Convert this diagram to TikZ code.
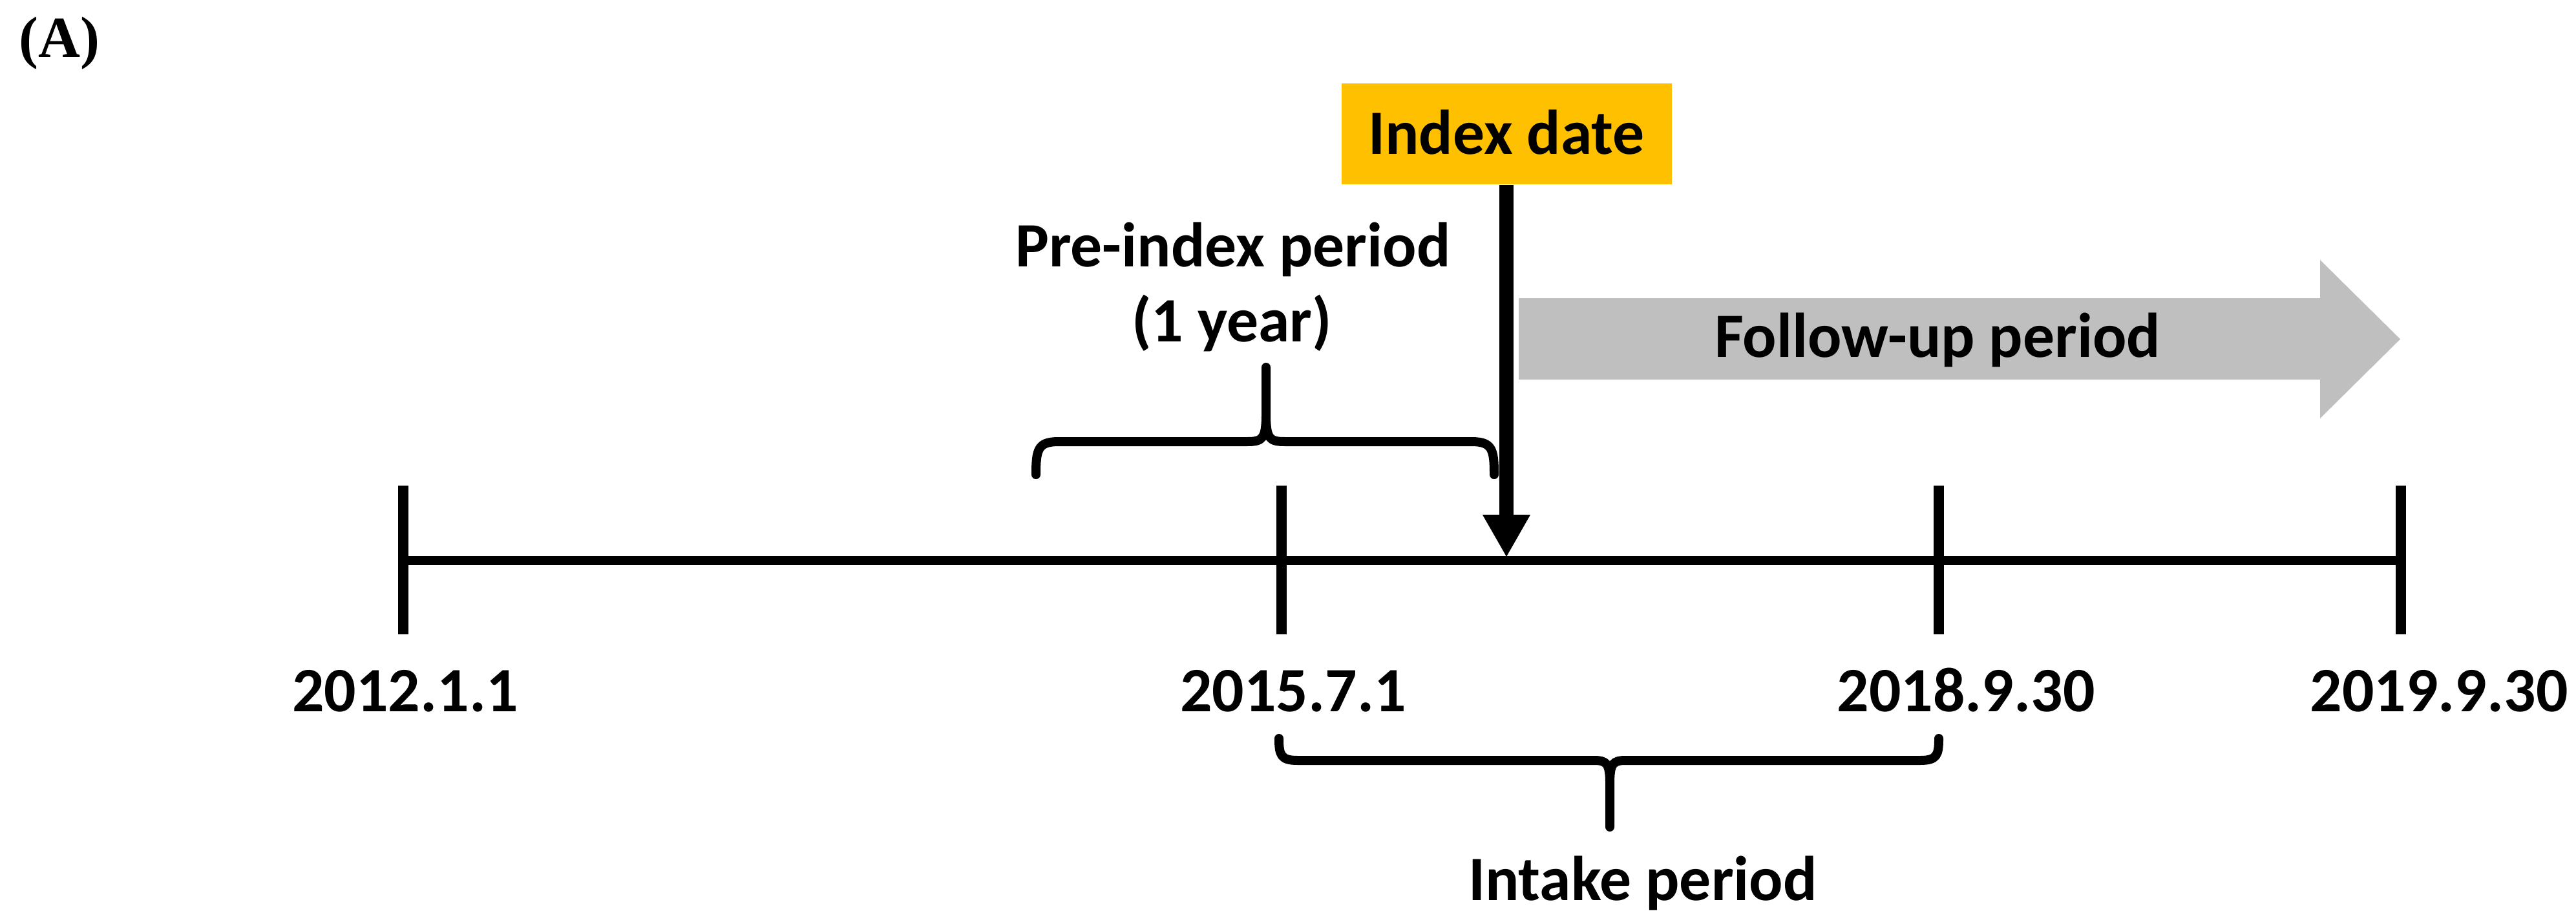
\documentclass[tikz,border=0pt]{standalone}
\usepackage{fontspec}
\setmainfont{Carlito}
\newfontfamily\serifA{Liberation Serif}
\usetikzlibrary{arrows.meta}
\definecolor{idxgold}{RGB}{255,192,0}
\definecolor{fugray}{RGB}{191,191,191}
\begin{document}
\begin{tikzpicture}[x=1cm,y=1cm,
  lbl/.style={font=\fontsize{27.8}{33}\selectfont\bfseries, inner sep=0pt, anchor=base},
  axisline/.style={line width=0.14cm},
  tickline/.style={line width=0.16cm},
  bracepath/.style={line width=0.14cm, line cap=round, line join=round},
  idxarrow/.style={line width=0.22cm, -{Triangle[width=0.69cm,length=0.66cm]}},
]
\useasboundingbox (0,0) rectangle (39.86,-14.29);
\fill[white] (0,0) rectangle (39.86,-14.29);

% panel label
\node[font=\serifA\bfseries\fontsize{25.6}{30}\selectfont, inner sep=0pt, anchor=base west] (panel) at (0.29,-0.88) {(A)};

% timeline
\coordinate (t0) at (6.24,-8.67);
\coordinate (t1) at (19.83,-8.67);
\coordinate (t2) at (30.00,-8.67);
\coordinate (t3) at (37.15,-8.67);
\draw[axisline] (t0) -- (t3);
\foreach \c in {t0,t1,t2,t3}{
  \draw[tickline] ([yshift=1.16cm]\c) -- ([yshift=-1.14cm]\c);
}

% date labels
\node[lbl] (d0) at (6.27,-11.00) {2012.1.1};
\node[lbl] (d1) at (20.01,-11.00) {2015.7.1};
\node[lbl] (d2) at (30.42,-11.00) {2018.9.30};
\node[lbl] (d3) at (37.74,-11.00) {2019.9.30};

% follow-up arrow
\fill[fugray] (23.50,-4.61) -- (35.90,-4.61) -- (35.90,-4.02) -- (37.14,-5.245)
  -- (35.90,-6.47) -- (35.90,-5.87) -- (23.50,-5.87) -- cycle;
\node[lbl] (fu) at (29.98,-5.52) {Follow-up period};

% index date
\node[fill=idxgold, minimum width=5.11cm, minimum height=1.56cm, inner sep=0pt,
      text height=0.62cm, text depth=0cm,
      font=\fontsize{27.8}{33}\selectfont\bfseries] (idx) at (23.31,-2.07) {Index date};
\coordinate (idxpt) at (23.31,-8.62);
\draw[idxarrow] (idx.south) -- (idxpt);

% pre-index period
\node[lbl] (pre1) at (19.08,-4.12) {Pre-index period};
\node[lbl] (pre2) at (19.06,-5.28) {(1 year)};
\draw[bracepath] (16.03,-7.34) .. controls (16.03,-6.95) and (16.06,-6.83) .. (16.38,-6.83)
  -- (19.30,-6.83) .. controls (19.54,-6.83) and (19.59,-6.78) .. (19.59,-6.40) -- (19.59,-5.68)
  (23.12,-7.34) .. controls (23.12,-6.95) and (23.09,-6.83) .. (22.77,-6.83)
  -- (19.88,-6.83) .. controls (19.64,-6.83) and (19.59,-6.78) .. (19.59,-6.40);

% intake period
\draw[bracepath] (19.79,-11.42) .. controls (19.79,-11.68) and (19.82,-11.76) .. (20.08,-11.76)
  -- (24.66,-11.76) .. controls (24.86,-11.76) and (24.91,-11.80) .. (24.91,-12.12) -- (24.91,-12.79)
  (30.00,-11.42) .. controls (30.00,-11.68) and (29.97,-11.76) .. (29.71,-11.76)
  -- (25.16,-11.76) .. controls (24.96,-11.76) and (24.91,-11.80) .. (24.91,-12.12);
\node[lbl] (intake) at (25.42,-13.92) {Intake period};
\end{tikzpicture}
\end{document}
